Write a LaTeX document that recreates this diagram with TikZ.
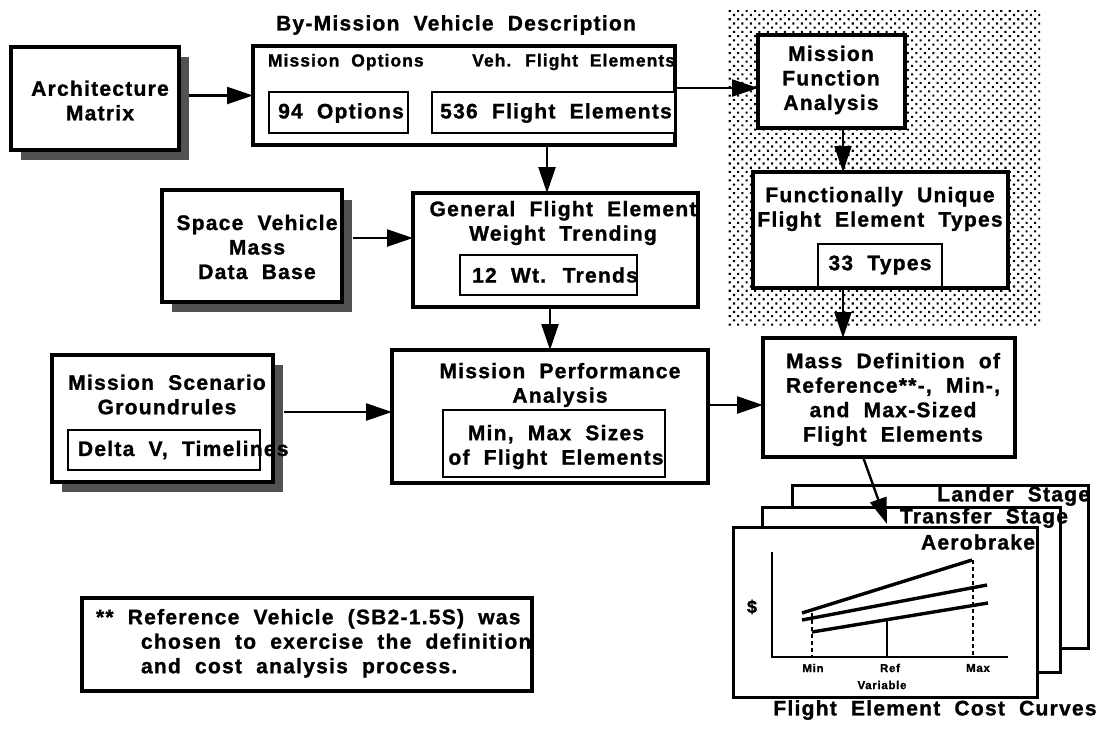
\documentclass[tikz,border=0pt]{standalone}
\usepackage{fontspec}
\setmainfont{Liberation Sans}
\newfontfamily\lbl{Liberation Sans}[LetterSpace=6,WordSpace=2,FakeBold=1.2]
\usetikzlibrary{arrows.meta,shadows,patterns.meta,calc}
\newcommand{\fsz}[2]{\fontsize{#1}{#2}\selectfont}

\begin{document}
\begin{tikzpicture}[x=1pt,y=-1pt,
  every node/.style={inner sep=0pt, outer sep=0pt},
  txt/.style={font=\lbl\bfseries\fsz{21}{24.5}, align=center},
  smalltxt/.style={font=\lbl\bfseries\fsz{17.5}{20}},
  tinytxt/.style={font=\lbl\bfseries\fsz{11.5}{13}},
  frame/.style={draw=black, line width=3.2pt, fill=white},
  inbox/.style={draw=black, line width=2.8pt, fill=white},
  shadowed/.style={drop shadow={shadow xshift=10pt, shadow yshift=-10pt, fill=black!68, opacity=1}},
  flow/.style={line width=2.4pt, -{Triangle[length=26pt,width=17pt]}},
  card/.style={draw=black, line width=3pt, fill=white},
  curve/.style={line width=3.4pt},
  guide/.style={line width=1.6pt, dash pattern=on 4pt off 3pt},
]
% page
\fill[white] (0,0) rectangle (1096,732);
\useasboundingbox (0,0) rectangle (1096,732);

% stippled area behind the function analysis
\fill[pattern={Dots[distance=6pt,radius=1.45pt,angle=45]}] (728,10) rectangle (1040,325);

% ---- boxes ----
\node[frame, shadowed, minimum width=168pt, minimum height=103pt] (arch) at (95,98.5) {};
\node[txt] (archT) at (100,100.5) {Architecture\\Matrix};

\node[txt] (bymTitle) at (456,25) {By-Mission Vehicle Description};
\node[frame, minimum width=422pt, minimum height=99pt] (bym) at (464,95.5) {};
\node[smalltxt, anchor=west] (optHead) at (268,62) {Mission Options};
\node[smalltxt, anchor=east] (felHead) at (675,62) {Veh. Flight Elements};
\node[inbox, minimum width=139pt, minimum height=41pt] (opt) at (338.5,112.5) {};
\node[txt] (optT) at (341,113) {94 Options};
\node[inbox, minimum width=243pt, minimum height=41pt] (fel) at (553.5,112.5) {};
\node[txt] (felT) at (556,113) {536 Flight Elements};

\node[frame, minimum width=147pt, minimum height=93pt] (mfa) at (831.5,81.5) {};
\node[txt] (mfaT) at (831,80) {Mission\\Function\\Analysis};

\node[frame, minimum width=255pt, minimum height=116pt] (fu) at (880.5,230) {};
\node[txt] (fuT) at (880,209) {Functionally Unique\\Flight Element Types};
\node[inbox, minimum width=124pt, minimum height=43pt] (typ) at (880,265.5) {};
\node[txt] (typT) at (880,265) {33 Types};

\node[frame, shadowed, minimum width=180pt, minimum height=112pt] (sv) at (252,246) {};
\node[txt] (svT) at (257,247) {Space Vehicle\\Mass\\Data Base};

\node[frame, minimum width=285pt, minimum height=114pt] (gen) at (555.5,250) {};
\node[txt] (genT) at (563,223) {General Flight Element\\Weight Trending};
\node[inbox, minimum width=177pt, minimum height=40pt] (wt) at (548.5,275) {};
\node[txt] (wtT) at (555,275) {12 Wt. Trends};

\node[frame, shadowed, minimum width=221pt, minimum height=127pt] (ms) at (162.5,418.5) {};
\node[txt] (msT) at (167,394.5) {Mission Scenario\\Groundrules};
\node[inbox, minimum width=192pt, minimum height=40pt] (dv) at (164,450) {};
\node[txt, anchor=west] (dvT) at (78,450) {Delta V, Timelines};

\node[frame, minimum width=316pt, minimum height=133pt] (mp) at (550,416.5) {};
\node[txt] (mpT) at (560,385) {Mission Performance\\Analysis};
\node[inbox, minimum width=222pt, minimum height=67pt] (mm) at (554,443.5) {};
\node[txt] (mmT) at (556,447) {Min, Max Sizes\\of Flight Elements};

\node[frame, minimum width=252pt, minimum height=119pt] (md) at (889,397.5) {};
\node[txt] (mdT) at (893,399.5) {Mass Definition of\\Reference**-, Min-,\\and Max-Sized\\Flight Elements};

\node[frame, minimum width=450pt, minimum height=93pt] (fn) at (307,644.5) {};
\node[txt, align=left, anchor=north west] (fnT) at (96,609) {** Reference Vehicle (SB2-1.5S) was\\\hspace*{45pt}chosen to exercise the definition\\\hspace*{45pt}and cost analysis process.};

% ---- stacked cost-curve sheets ----
\node[card, minimum width=296pt, minimum height=163pt] (lander) at (940,566.5) {};
\node[txt, anchor=east] (landerT) at (1090,496) {Lander Stage};
\node[card, minimum width=298pt, minimum height=165pt] (transfer) at (911,589.5) {};
\node[txt, anchor=east] (transferT) at (1068,518) {Transfer Stage};
\node[card, minimum width=304pt, minimum height=170pt] (aero) at (885,612) {};
\node[txt, anchor=east] (aeroT) at (1035,542) {Aerobrake};

% chart on the front sheet
\draw[line width=2.6pt] (772,552) -- (772,657) -- (1008,657);
\draw[guide] (812,613) -- (812,657);
\draw[line width=1.6pt] (887,620) -- (887,657);
\draw[guide] (973,560) -- (973,657);
\draw[curve] (802,613) -- (972,560);
\draw[curve] (802,620) -- (987,585);
\draw[curve] (812,632) -- (988,603);
\node[txt, font=\lbl\bfseries\fsz{18}{20}] (dollar) at (752,607) {\$};
\node[tinytxt] (minL) at (813,668) {Min};
\node[tinytxt] (refL) at (890,668) {Ref};
\node[tinytxt] (maxL) at (978,668) {Max};
\node[tinytxt] (varL) at (882,685) {Variable};
\node[txt] (costT) at (935,710) {Flight Element Cost Curves};

% ---- connectors ----
\coordinate (archOut) at ($(arch.east)+(10,-3)$);
\draw[flow] (archOut) -- (archOut -| bym.west);
\coordinate (bymOut) at ($(bym.east)+(0,-7.5)$);
\draw[flow] (bymOut) -- (bymOut -| mfa.west);
\coordinate (bymDown) at ($(bym.south)+(83,0)$);
\draw[flow] (bymDown) -- (bymDown |- gen.north);
\coordinate (svOut) at ($(sv.east)+(11,-8)$);
\draw[flow] (svOut) -- (svOut -| gen.west);
\draw[flow] (gen.south -| mp.north) -- (mp.north);
\coordinate (msOut) at ($(ms.east)+(11,-6.5)$);
\draw[flow] (msOut) -- (msOut -| mp.west);
\coordinate (mfaDown) at ($(mfa.south)+(11.5,0)$);
\draw[flow] (mfaDown) -- (mfaDown |- fu.north);
\coordinate (fuDown) at ($(fu.south)+(-37.5,0)$);
\draw[flow] (fuDown) -- (fuDown |- md.north);
\coordinate (mpOut) at ($(mp.east)+(0,-11.5)$);
\draw[flow] (mpOut) -- (mpOut -| md.west);
\coordinate (mdOut) at ($(md.south)+(-26,0)$);
\coordinate (sheetIn) at (887,524);
\draw[flow] (mdOut) -- (sheetIn);
\end{tikzpicture}
\end{document}
